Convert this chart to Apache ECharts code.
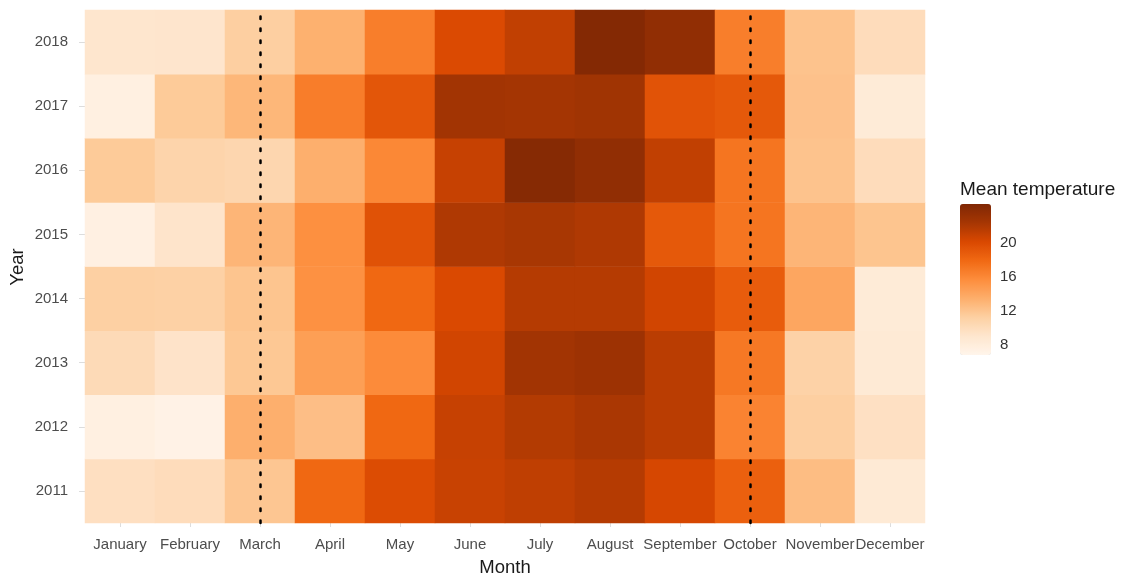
<!DOCTYPE html>
<html>
<head>
<meta charset="utf-8">
<script src="https://cdn.jsdelivr.net/npm/echarts@6/dist/echarts.min.js"></script>
<style>
html,body{margin:0;padding:0;background:#fff;}
#chart{width:1122px;height:575px;}
</style>
</head>
<body>
<div id="chart"></div>
<script>
const months = ['January','February','March','April','May','June','July','August','September','October','November','December'];
const years = ['2011','2012','2013','2014','2015','2016','2017','2018'];
// mean temperature per month, one array per year
const t2011 = [9.7, 10.0, 11.9, 18.0, 19.9, 20.9, 21.3, 21.7, 20.3, 18.5, 12.5, 8.5];
const t2012 = [7.6, 7.2, 13.4, 12.4, 18.0, 21.0, 21.8, 22.2, 21.5, 16.3, 11.3, 9.6];
const t2013 = [10.2, 9.3, 11.8, 14.5, 15.8, 20.5, 22.6, 22.9, 21.5, 17.0, 11.0, 8.5];
const t2014 = [11.2, 11.1, 12.0, 15.4, 18.0, 20.1, 21.7, 21.7, 20.5, 18.8, 14.0, 8.3];
const t2015 = [7.5, 9.2, 13.0, 15.5, 19.5, 22.0, 22.3, 22.0, 19.0, 17.2, 13.0, 12.0];
const t2016 = [11.6, 10.8, 10.6, 13.4, 16.0, 21.0, 24.2, 23.6, 21.2, 17.2, 12.1, 10.0];
const t2017 = [7.6, 11.6, 12.9, 16.7, 19.2, 22.6, 22.5, 22.7, 19.4, 19.0, 12.2, 8.3];
const t2018 = [9.0, 9.1, 11.3, 13.3, 16.6, 20.0, 21.2, 24.3, 23.6, 16.6, 12.1, 10.0];
const legendTicks = [8, 12, 16, 20];
const scaleMin = 6.8, scaleMax = 24.6;
const markedMonths = ['March', 'October'];
const oranges = ['#FFF5EB','#FEE6CE','#FDD0A2','#FDAE6B','#FD8D3C','#F16913','#D94801','#A63603','#7F2704'];

const rows = [t2011, t2012, t2013, t2014, t2015, t2016, t2017, t2018];
const data = [];
rows.forEach((r, yi) => r.forEach((v, xi) => data.push([xi, yi, v])));

const chart = echarts.init(document.getElementById('chart'), null, {renderer: 'canvas'});
const labelColor = '#4d4d4d';
const tickLine = {color: 'rgba(255,255,255,0.6)', width: 1};
chart.setOption({
  backgroundColor: '#ffffff',
  animation: false,
  textStyle: {fontFamily: 'Liberation Sans, Arial, sans-serif'},
  title: {
    text: 'Mean temperature', left: 960, top: 180, padding: 0,
    textStyle: {fontSize: 19, fontWeight: 'normal', color: '#1a1a1a'}
  },
  graphic: [{
    type: 'text', x: 18, y: 267, rotation: Math.PI / 2,
    style: {text: 'Year', fontSize: 18.5, fill: '#1a1a1a', align: 'center', verticalAlign: 'middle',
            fontFamily: 'Liberation Sans, Arial, sans-serif'}
  }],
  grid: [
    {left: 85, right: 197, top: 10, bottom: 52, containLabel: false, outerBoundsMode: 'none'},
    {left: 960, top: 204, width: 31, height: 151, containLabel: false, outerBoundsMode: 'none'}
  ],
  xAxis: [
    {
      type: 'category', data: months, gridIndex: 0,
      name: 'Month', nameLocation: 'middle', nameGap: 35,
      nameTextStyle: {fontSize: 18.5, color: '#1a1a1a'},
      axisLine: {show: false},
      axisTick: {show: true, alignWithLabel: true, length: 4, lineStyle: {color: '#dddddd'}},
      axisLabel: {fontSize: 15, color: labelColor, margin: 14, interval: 0, hideOverlap: false},
      splitLine: {show: false}
    },
    {type: 'value', gridIndex: 1, show: false, min: 0, max: 1}
  ],
  yAxis: [
    {
      type: 'category', data: years, gridIndex: 0,
      axisLine: {show: false},
      axisTick: {show: true, alignWithLabel: true, length: 6, lineStyle: {color: '#dddddd'}},
      axisLabel: {fontSize: 15, color: labelColor, margin: 17},
      splitLine: {show: false}
    },
    {
      type: 'value', gridIndex: 1, position: 'right', min: scaleMin, max: scaleMax,
      axisLine: {show: false},
      axisLabel: {fontSize: 15, color: '#333333', margin: 9, customValues: legendTicks},
      axisTick: {show: true, inside: true, length: 6, lineStyle: tickLine, customValues: legendTicks},
      splitLine: {show: false}
    },
    {
      type: 'value', gridIndex: 1, position: 'left', min: scaleMin, max: scaleMax,
      axisLine: {show: false},
      axisTick: {show: true, inside: true, length: 6, lineStyle: tickLine, customValues: legendTicks},
      axisLabel: {show: false},
      splitLine: {show: false}
    }
  ],
  visualMap: {
    type: 'continuous', min: scaleMin, max: scaleMax, seriesIndex: 0,
    calculable: false, left: 960, top: 204, itemWidth: 31, itemHeight: 151,
    padding: 0, inRange: {color: oranges}
  },
  series: [
    {
      type: 'heatmap', xAxisIndex: 0, yAxisIndex: 0, data: data,
      itemStyle: {borderWidth: 0},
      emphasis: {disabled: true},
      markLine: {
        silent: true, symbol: ['none', 'none'], label: {show: false},
        lineStyle: {color: '#000000', width: 2.5, type: [2.5, 9.5], cap: 'round'},
        data: markedMonths.map(m => ({xAxis: m}))
      }
    },
    {type: 'scatter', xAxisIndex: 1, yAxisIndex: 1, data: []}
  ]
});
</script>
</body>
</html>
